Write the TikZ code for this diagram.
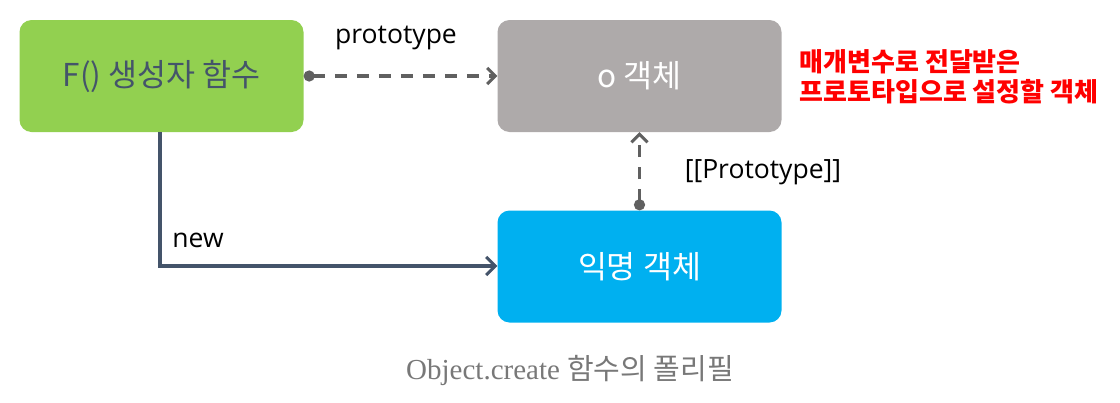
\documentclass[tikz,border=0pt]{standalone}
\usepackage{fontspec}
\usetikzlibrary{arrows.meta}
\setmainfont{Noto Sans CJK KR}
\newfontfamily\labelfont{Open Sans}
\newfontfamily\capfont{Liberation Serif}
\newfontfamily\capkrfont{Noto Sans CJK KR}
\definecolor{myGreen}{RGB}{146,208,80}
\definecolor{myGray}{RGB}{174,170,170}
\definecolor{myBlue}{RGB}{0,176,240}
\definecolor{myNavy}{RGB}{68,84,106}
\definecolor{myDash}{RGB}{96,96,96}
\definecolor{myRed}{RGB}{255,0,0}
\definecolor{myCaption}{RGB}{120,120,120}

\begin{document}
\begin{tikzpicture}[x=1pt,y=-1pt,
	box/.style={rounded corners=12pt, minimum width=284pt, minimum height=112pt, inner sep=0pt, font=\fontsize{31.5}{36}\selectfont},
	link/.style={myDash, line width=3.5pt, dash pattern=on 12pt off 10pt, {Circle[length=11pt,width=11pt]}-{Straight Barb[length=8pt,width=16pt,line width=3pt]}},
	lbl/.style={font=\labelfont\fontsize{26.5}{30}\selectfont}]
	\useasboundingbox (0,0) rectangle (1120,402);
	\draw (161.5,76) node[box, fill=myGreen, text=myNavy] (F) {F() 생성자 함수};
	\draw (639.5,76) node[box, fill=myGray, text=white] (O) {o 객체};
	\draw (639.5,266.5) node[box, fill=myBlue, text=white] (A) {익명 객체};
	\coordinate (bend) at (160,266);

	\path[link] (F.east) edge (O.west);
	\path[link] (A.north) edge (O.south);
	\draw[myNavy, line width=3.5pt, -{Straight Barb[length=9pt,width=18pt,line width=3pt]}] (F.south -| bend) -- (bend) -- (A.west |- bend);

	\draw (396,38) node[lbl] (protoLbl) {prototype};
	\draw (763,172) node[lbl] (innerLbl) {[[Prototype]]};
	\draw (198,240) node[lbl] (newLbl) {new};
	\draw (796,77) node[anchor=west, align=left, text=myRed, font=\fontsize{26}{30}\selectfont\bfseries] (note) {매개변수로 전달받은\\프로토타입으로 설정할 객체};
	\draw (570,370) node[text=myCaption, font=\fontsize{29}{34}\selectfont] (cap) {\capfont Object.create \capkrfont 함수의 폴리필};
\end{tikzpicture}
\end{document}
